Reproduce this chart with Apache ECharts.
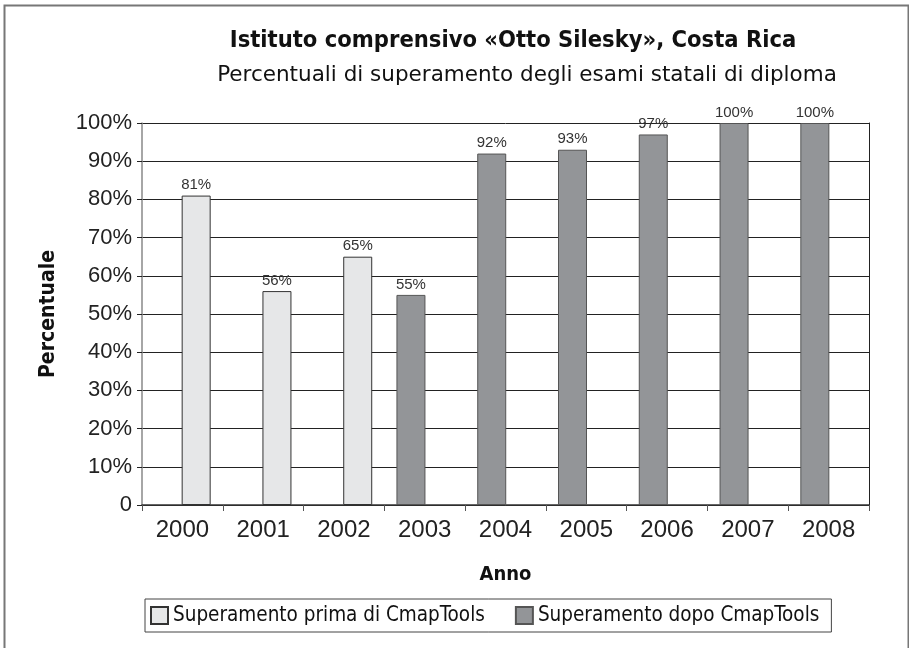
<!DOCTYPE html>
<html>
<head>
<meta charset="utf-8">
<script src="https://cdn.jsdelivr.net/npm/echarts@6/dist/echarts.min.js"></script>
<style>
html,body{margin:0;padding:0;background:#fff;}
#chart{width:909px;height:648px;}
</style>
</head>
<body>
<div id="chart"></div>
<script>
const years = ['2000','2001','2002','2003','2004','2005','2006','2007','2008'];
const primaValues = [81, 56, 65, null, null, null, null, null, null];
const dopoValues = [null, null, null, 55, 92, 93, 97, 100, 100];
const yTicks = [0,10,20,30,40,50,60,70,80,90,100];
const seriesNames = ['Superamento prima di CmapTools', 'Superamento dopo CmapTools'];
const titleText = 'Istituto comprensivo «Otto Silesky», Costa Rica';
const subtitleText = 'Percentuali di superamento degli esami statali di diploma';

const narrow = '"DejaVu Sans Condensed", "Liberation Sans", sans-serif';
const sans = '"Liberation Sans", Arial, sans-serif';

const chart = echarts.init(document.getElementById('chart'), null, {renderer:'canvas'});
const labelCfg = {
  show: true, position: 'top', distance: 3,
  fontFamily: sans, fontSize: 15, color: '#333',
  formatter: p => p.value == null ? '' : p.value + '%'
};
chart.setOption({
  animation: false,
  backgroundColor: '#fff',
  title: [{
    text: titleText,
    left: 513, top: 29, textAlign: 'center', padding: 0,
    textStyle: {fontFamily: narrow, fontWeight: 'bold', fontSize: 23.5, color: '#111'}
  },{
    text: subtitleText,
    left: 527, top: 64, textAlign: 'center', padding: 0,
    textStyle: {fontFamily: '"DejaVu Sans", sans-serif', fontWeight: 'normal', fontSize: 21.5, color: '#111'}
  }],
  legend: {
    bottom: 16, left: 145,
    data: seriesNames,
    itemWidth: 17, itemHeight: 17, itemGap: 30,
    padding: [6, 12, 6, 5],
    borderColor: '#444', borderWidth: 1,
    icon: 'rect',
    textStyle: {fontFamily: narrow, fontSize: 20.5, color: '#111'}
  },
  grid: {left: 142, right: 40, top: 123, bottom: 143, containLabel: false},
  xAxis: {
    type: 'category', data: years,
    boundaryGap: true,
    name: 'Anno', nameLocation: 'middle', nameGap: 60,
    nameTextStyle: {fontFamily: narrow, fontWeight: 'bold', fontSize: 20, color: '#111'},
    axisLine: {lineStyle: {color: '#333', width: 1.5}},
    axisTick: {show: true, length: 6, lineStyle: {color: '#555'}},
    axisLabel: {fontFamily: sans, fontSize: 24, color: '#222', margin: 13}
  },
  yAxis: [{
    type: 'value', min: 0, max: 100, interval: 10,
    name: 'Percentuale', nameLocation: 'middle', nameGap: 83, nameRotate: 90,
    nameTextStyle: {fontFamily: narrow, fontWeight: 'bold', fontSize: 21, color: '#111'},
    axisLine: {show: true, lineStyle: {color: '#888', width: 1.5}},
    axisTick: {show: true, length: 5, lineStyle: {color: '#222'}},
    splitLine: {show: true, lineStyle: {color: '#222', width: 1}},
    axisLabel: {fontFamily: sans, fontSize: 22, color: '#222', margin: 10,
      formatter: v => yTicks.includes(v) ? (v === 0 ? '0' : v + '%') : ''}
  },{
    type: 'value', min: 0, max: 100, interval: 10, position: 'right',
    axisLine: {show: true, lineStyle: {color: '#222', width: 1}},
    axisTick: {show: false}, axisLabel: {show: false}, splitLine: {show: false}
  }],
  series: [{
    name: seriesNames[1], type: 'bar', data: dopoValues,
    barWidth: 29, barGap: '-5%',
    itemStyle: {color: '#939598', borderColor: '#555', borderWidth: 1},
    label: labelCfg
  },{
    name: seriesNames[0], type: 'bar', data: primaValues,
    barWidth: 29, barGap: '-5%',
    itemStyle: {color: '#e6e7e8', borderColor: '#333', borderWidth: 1},
    label: labelCfg
  }],
  graphic: [{
    type: 'rect', left: 2, top: 3,
    shape: {x: 0, y: 0, width: 904, height: 660},
    style: {fill: 'none', stroke: '#777', lineWidth: 2},
    silent: true
  }]
});
</script>
</body>
</html>
